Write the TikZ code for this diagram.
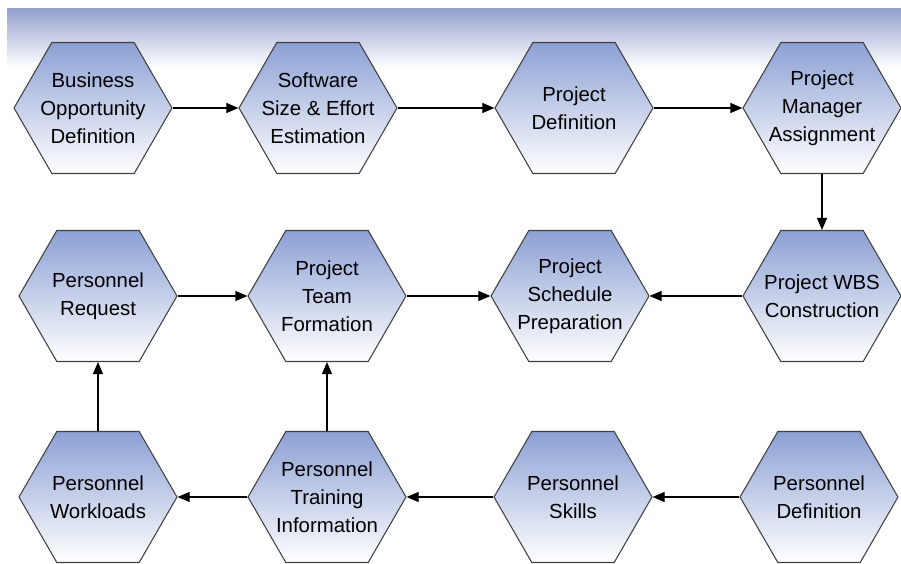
\documentclass[tikz,border=0pt]{standalone}
\usepackage{fontspec}
\setmainfont{Liberation Sans}
\usetikzlibrary{shapes.symbols,arrows.meta}
\definecolor{hexblue}{RGB}{140,160,212}
\definecolor{bandblue}{RGB}{150,162,206}
\begin{document}
\begin{tikzpicture}[
    hex/.style={signal,signal to=east and west,signal pointer angle=120,
      draw=black!75,line width=0.6pt,top color=hexblue,bottom color=white,
      minimum width=3.16cm,minimum height=2.62cm,inner sep=0pt,
      label={[font=\fontsize{11.6}{16}\selectfont,align=center]center:#1}},
    flow/.style={draw,line width=0.65pt,-{Triangle[length=2.4mm,width=2mm]}}]
  \useasboundingbox (0,0) rectangle (18.02,11.26);
  % shaded strip along the top
  \shade[top color=bandblue,middle color=black!4!blue!2,bottom color=white]
    (0.14,9.9) rectangle (18.02,11.08);

  % top row
  \node [hex={Business\\Opportunity\\Definition}] (bod) at (1.86,9.1) {};
  \node [hex={Software\\Size \& Effort\\Estimation}] (ssee) at (6.36,9.1) {};
  \node [hex={Project\\Definition}] (pdef) at (11.48,9.1) {};
  \node [hex={Project\\Manager\\Assignment}] (pma) at (16.44,9.1) {};

  % middle row
  \node [hex={Personnel\\Request}] (preq) at (1.96,5.34) {};
  \node [hex={Project\\Team\\Formation}] (ptf) at (6.54,5.34) {};
  \node [hex={Project\\Schedule\\Preparation}] (psp) at (11.4,5.34) {};
  \node [hex={Project WBS\\Construction}] (pwbs) at (16.44,5.34) {};

  % bottom row
  \node [hex={Personnel\\Workloads}] (pwl) at (1.96,1.32) {};
  \node [hex={Personnel\\Training\\Information}] (pti) at (6.54,1.32) {};
  \node [hex={Personnel\\Skills}] (psk) at (11.46,1.32) {};
  \node [hex={Personnel\\Definition}] (pdf) at (16.38,1.32) {};

  \draw [flow] (bod) -- (ssee);
  \draw [flow] (ssee) -- (pdef);
  \draw [flow] (pdef) -- (pma);
  \draw [flow] (pma) -- (pwbs);
  \draw [flow] (pwbs) -- (psp);
  \draw [flow] (preq) -- (ptf);
  \draw [flow] (ptf) -- (psp);
  \draw [flow] (pdf) -- (psk);
  \draw [flow] (psk) -- (pti);
  \draw [flow] (pti) -- (pwl);
  \draw [flow] (pwl) -- (preq);
  \draw [flow] (pti) -- (ptf);
\end{tikzpicture}
\end{document}
